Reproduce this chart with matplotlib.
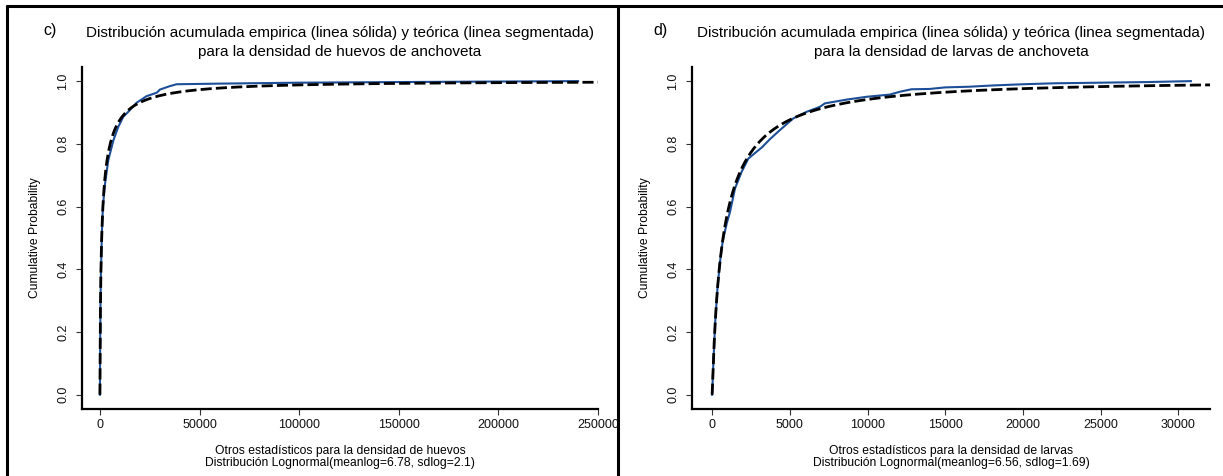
import math
import numpy as np
import matplotlib
matplotlib.use("Agg")
from matplotlib import pyplot as plt
from matplotlib.lines import Line2D

plt.rcParams['font.family'] = ['Liberation Sans', 'DejaVu Sans']

# empirical cumulative distribution, eggs (panel c)
huevos_x = [0, 50, 100, 300, 500, 1000, 1500, 2500, 4200, 6700, 9200, 11700,
            14200, 18400, 23400, 28500, 30100, 35100, 38500, 60000, 100000,
            150000, 240000]
huevos_p = [0.0, 0.08, 0.15, 0.30, 0.39, 0.52, 0.60, 0.67, 0.748, 0.81, 0.854,
            0.886, 0.902, 0.931, 0.952, 0.963, 0.973, 0.984, 0.990, 0.992,
            0.995, 0.997, 1.0]

# empirical cumulative distribution, larvae (panel d)
larvas_x = [0, 30, 50, 100, 200, 350, 500, 687, 943, 1156, 1477, 1906, 2334,
            2868, 3190, 3725, 4368, 5224, 6080, 6936, 7257, 8651, 9935, 11432,
            12074, 12826, 14000, 15000, 16500, 18000, 20000, 22000, 25000,
            28000, 30800]
larvas_p = [0.0, 0.03, 0.06, 0.12, 0.23, 0.34, 0.42, 0.49, 0.546, 0.583, 0.658,
            0.711, 0.753, 0.775, 0.788, 0.815, 0.844, 0.881, 0.902, 0.918,
            0.929, 0.941, 0.950, 0.957, 0.966, 0.974, 0.975, 0.980, 0.982,
            0.986, 0.990, 0.993, 0.995, 0.997, 1.0]

huevos_ticks = [0, 50000, 100000, 150000, 200000, 250000]
larvas_ticks = [0, 5000, 10000, 15000, 20000, 25000, 30000]
prob_ticks = [0.0, 0.2, 0.4, 0.6, 0.8, 1.0]

# fitted lognormal parameters
huevos_fit = (6.78, 2.1)
larvas_fit = (6.56, 1.69)

W, H = 1223, 476
fig = plt.figure(figsize=(W / 100, H / 100), dpi=100)


def fx(x):
    return x / W


def fy(y):
    return 1 - y / H


def plnorm(x, meanlog, sdlog):
    out = []
    for v in x:
        if v <= 0:
            out.append(0.0)
        else:
            z = (math.log(v) - meanlog) / (sdlog * math.sqrt(2))
            out.append(0.5 * (1 + math.erf(z)))
    return np.array(out)


blue = '#1d4f98'
panels = [
    dict(x=huevos_x, p=huevos_p, fit=huevos_fit, ticks=huevos_ticks,
         xlim=(-9000, 250000), box=(82, 598), tag='c)',
         sub='huevos'),
    dict(x=larvas_x, p=larvas_p, fit=larvas_fit, ticks=larvas_ticks,
         xlim=(-1290, 32030), box=(692, 1210), tag='d)',
         sub='larvas'),
]

for pn in panels:
    x0, x1 = pn['box']
    ax = fig.add_axes([fx(x0), fy(409), (x1 - x0) / W, (409 - 67) / H])
    ax.set_xlim(*pn['xlim'])
    ax.set_ylim(-0.0455, 1.045)

    ax.plot(pn['x'], pn['p'], color=blue, lw=1.5, solid_joinstyle='round')

    xs = np.concatenate([np.linspace(0, 2000, 400),
                         np.linspace(2000, pn['xlim'][1], 600)])
    ax.plot(xs, plnorm(xs, *pn['fit']), color='black', lw=2.0,
            dashes=(4, 1.5))

    for s in ['top', 'right']:
        ax.spines[s].set_visible(False)
    for s in ['left', 'bottom']:
        ax.spines[s].set_linewidth(1.6)

    ax.set_xticks(pn['ticks'])
    ax.set_xticklabels([str(t) for t in pn['ticks']])
    ax.set_yticks(prob_ticks)
    ax.set_yticklabels(['%.1f' % t for t in prob_ticks], rotation=90,
                       va='center')
    ax.tick_params(length=4, width=0.8, color='#333333', labelsize=9,
                   labelcolor='#111111')
    ax.tick_params(axis='x', pad=3)
    ax.tick_params(axis='y', pad=5)

    cx = (x0 + x1) / 2
    fig.text(fx(x0 - 47), fy(238), 'Cumulative Probability', rotation=90,
             ha='center', va='center', fontsize=8.7)
    fig.text(fx(cx), fy(451), 'Otros estadísticos para la densidad de ' + pn['sub'],
             ha='center', va='center', fontsize=8.7)
    m, sd = pn['fit']
    fig.text(fx(cx), fy(463),
             'Distribución Lognormal(meanlog=%g, sdlog=%g)' % (m, sd),
             ha='center', va='center', fontsize=8.7)

    fig.text(fx(cx), fy(33),
             'Distribución acumulada empirica (linea sólida) y teórica (linea segmentada)',
             ha='center', va='center', fontsize=11)
    fig.text(fx(cx), fy(52),
             'para la densidad de %s de anchoveta' % pn['sub'],
             ha='center', va='center', fontsize=11)
    fig.text(fx(x0 - 32), fy(30), pn['tag'], ha='center', va='center',
             fontsize=11.5)

# panel frames
frame = dict(color='black', lw=2.2, solid_capstyle='butt')
fig.add_artist(Line2D([fx(6), 1], [fy(6), fy(6)], **frame))
fig.add_artist(Line2D([fx(7), fx(7)], [fy(5), 0], **frame))
fig.add_artist(Line2D([fx(618), fx(618)], [fy(5), 0], **frame))

fig.savefig('out.png', dpi=100)
